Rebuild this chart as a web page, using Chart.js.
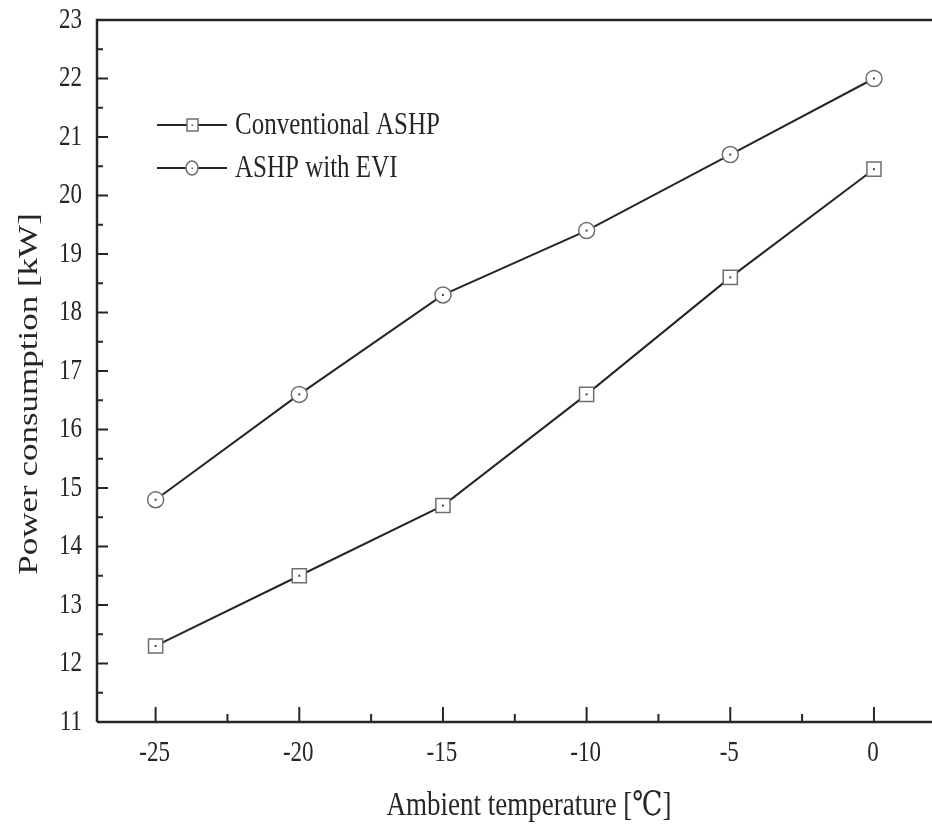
<!DOCTYPE html>
<html>
<head>
<meta charset="utf-8">
<script src="https://cdn.jsdelivr.net/npm/chart.js@4.4.1/dist/chart.umd.min.js"></script>
<style>
  html, body { margin: 0; padding: 0; background: #fff; overflow: hidden; }
  canvas { display: block; }
</style>
</head>
<body>
<canvas id="powerChart" width="932" height="824"></canvas>
<script>
document.addEventListener("DOMContentLoaded", function () {

  // ===== Data =====
  const temps = [-25, -20, -15, -10, -5, 0];
  const conventional = [12.3, 13.5, 14.7, 16.6, 18.6, 20.45];
  const withEvi = [14.8, 16.6, 18.3, 19.4, 20.7, 22.0];
  const xTicks = [-25, -20, -15, -10, -5, 0];
  const yTicks = [11, 12, 13, 14, 15, 16, 17, 18, 19, 20, 21, 22, 23];
  const xTitle = 'Ambient temperature [\u2103]';
  const yTitle = 'Power consumption [kW]';

  const ink = '#262626';
  const markerGray = '#6e6e6e';
  const serif = "'Liberation Serif', 'DejaVu Serif', serif";
  const stretch = 1.25; // the source figure is taller than it is wide, text included

  // draw text stretched along the page's vertical direction
  function tallText(ctx, str, x, y, size, align, baseline) {
    ctx.save();
    ctx.font = size + 'px ' + serif;
    ctx.textAlign = align;
    ctx.textBaseline = baseline;
    ctx.translate(x, y);
    ctx.scale(1, stretch);
    ctx.fillText(str, 0, 0);
    ctx.restore();
  }

  // axis frame, inward ticks, labels, titles, legend
  const framePlugin = {
    id: 'frame',
    afterDraw(chart) {
      const ctx = chart.ctx;
      const area = chart.chartArea;
      const xs = chart.scales.x;
      const ys = chart.scales.y;
      const rightEdge = chart.width; // the frame runs off the right side of the figure
      ctx.save();
      ctx.strokeStyle = ink;
      ctx.lineWidth = 2.5;
      ctx.beginPath();
      ctx.moveTo(area.left, area.bottom);
      ctx.lineTo(area.left, area.top);
      ctx.lineTo(rightEdge, area.top);
      ctx.moveTo(area.left, area.bottom);
      ctx.lineTo(rightEdge, area.bottom);
      ctx.stroke();

      ctx.lineWidth = 2;
      ctx.beginPath();
      for (let v = -25; v <= xs.max; v += 2.5) {
        const px = xs.getPixelForValue(v);
        const len = (v % 5 === 0) ? 15 : 8;
        ctx.moveTo(px, area.bottom);
        ctx.lineTo(px, area.bottom - len);
      }
      for (let v = ys.min; v <= ys.max; v += 0.5) {
        const py = ys.getPixelForValue(v);
        const len = (v % 1 === 0) ? 11 : 6;
        ctx.moveTo(area.left, py);
        ctx.lineTo(area.left + len, py);
      }
      ctx.stroke();

      // centre dots on markers
      ctx.fillStyle = '#444';
      chart.data.datasets.forEach((ds, i) => {
        chart.getDatasetMeta(i).data.forEach(pt => {
          ctx.fillRect(pt.x - 1, pt.y - 1, 2, 2);
        });
      });

      // tick labels
      ctx.fillStyle = ink;
      xs.ticks.forEach(t => {
        tallText(ctx, String(t.value), xs.getPixelForValue(t.value) - 1, area.bottom + 31, 23, 'center', 'middle');
      });
      ys.ticks.forEach(t => {
        tallText(ctx, String(t.value), area.left - 15, ys.getPixelForValue(t.value), 23, 'right', 'middle');
      });

      // axis titles
      tallText(ctx, xTitle, 529, 815, 27, 'center', 'alphabetic');
      ctx.save();
      ctx.font = '28px ' + serif;
      ctx.textAlign = 'center';
      ctx.textBaseline = 'middle';
      ctx.translate(30, 394);
      ctx.rotate(-Math.PI / 2);
      ctx.scale(stretch, 1);
      ctx.fillText(yTitle, 0, 0);
      ctx.restore();

      // legend
      chart.data.datasets.forEach((ds, i) => {
        const y = 125 + i * 43;
        const x0 = 157;
        ctx.strokeStyle = ink;
        ctx.lineWidth = 2;
        ctx.beginPath();
        ctx.moveTo(x0, y);
        ctx.lineTo(x0 + 70, y);
        ctx.stroke();
        ctx.fillStyle = '#fff';
        ctx.strokeStyle = markerGray;
        ctx.lineWidth = 1.5;
        ctx.beginPath();
        if (ds.pointStyle === 'rect') {
          ctx.rect(x0 + 30, y - 6, 11, 12);
        } else {
          ctx.ellipse(x0 + 35, y, 6, 7, 0, 0, Math.PI * 2);
        }
        ctx.fill();
        ctx.stroke();
        ctx.fillStyle = '#555';
        ctx.fillRect(x0 + 34.5, y - 0.5, 1.5, 1.5);
        ctx.fillStyle = ink;
        tallText(ctx, ds.label, x0 + 78, y + 1, 25, 'left', 'middle');
      });
      ctx.restore();
    }
  };

  const ctx = document.getElementById('powerChart').getContext('2d');
  new Chart(ctx, {
    type: 'line',
    plugins: [framePlugin],
    data: {
      datasets: [
        {
          label: 'Conventional ASHP',
          data: temps.map((t, i) => ({ x: t, y: conventional[i] })),
          borderColor: ink,
          borderWidth: 2,
          pointStyle: 'rect',
          pointRadius: 10,
          pointBorderColor: markerGray,
          pointBorderWidth: 1.5,
          pointBackgroundColor: '#fff',
          tension: 0
        },
        {
          label: 'ASHP with EVI',
          data: temps.map((t, i) => ({ x: t, y: withEvi[i] })),
          borderColor: ink,
          borderWidth: 2,
          pointStyle: 'circle',
          pointRadius: 8,
          pointBorderColor: markerGray,
          pointBorderWidth: 1.5,
          pointBackgroundColor: '#fff',
          tension: 0
        }
      ]
    },
    options: {
      responsive: false,
      animation: false,
      layout: { padding: { top: 20, right: 0, left: 0, bottom: 0 } },
      plugins: {
        legend: { display: false },
        tooltip: { enabled: false }
      },
      scales: {
        x: {
          type: 'linear',
          min: -27.04,
          max: 1.62,
          afterBuildTicks: s => { s.ticks = xTicks.map(v => ({ value: v })); },
          afterFit: s => { s.height = 102; },
          grid: { display: false },
          border: { display: false },
          ticks: { display: false }
        },
        y: {
          min: 11,
          max: 23,
          afterBuildTicks: s => { s.ticks = yTicks.map(v => ({ value: v })); },
          afterFit: s => { s.width = 97; },
          grid: { display: false },
          border: { display: false },
          ticks: { display: false }
        }
      }
    }
  });

});
</script>
</body>
</html>
